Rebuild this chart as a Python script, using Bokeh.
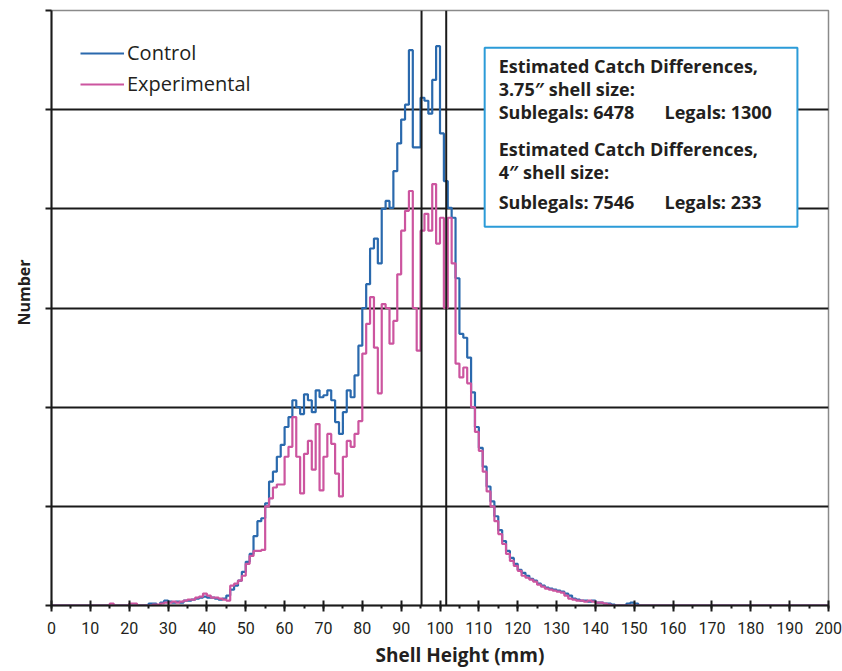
from bokeh.plotting import figure
from bokeh.models import (Range1d, SingleIntervalTicker, FixedTicker, Span,
                          BoxAnnotation, Label, ColumnDataSource, Title)
from bokeh.embed import file_html
from bokeh.resources import INLINE

# Bin starts (mm), 1 mm bins from 0 to 199, plus the closing edge at 200
bin_start = list(range(0, 201))

control = [
    0, 0, 0, 0, 0, 0, 0, 0, 0, 0,
    0, 0, 0, 0, 0, 0, 0, 0, 0, 0,
    0, 0, 0, 0, 0, 2, 2, 0, 3, 5,
    4, 3, 4, 3, 5, 5, 6, 7, 8, 9,
    8, 8, 7, 6, 7, 10, 16, 20, 25, 34,
    44, 52, 70, 85, 88, 103, 125, 135, 150, 162,
    180, 190, 207, 200, 193, 213, 207, 195, 217, 210,
    212, 217, 207, 185, 173, 195, 217, 210, 232, 262,
    300, 324, 360, 370, 345, 400, 408, 401, 438, 466,
    490, 505, 560, 462, 462, 512, 509, 496, 530, 564,
    476, 428, 401, 391, 330, 274, 270, 250, 215, 180,
    159, 140, 120, 105, 90, 76, 65, 55, 48, 42,
    36, 33, 30, 27, 25, 22, 20, 18, 17, 16,
    15, 14, 12, 10, 7, 6, 5, 5, 4, 5,
    3, 3, 2, 2, 1, 0, 0, 0, 2, 3,
    2, 0, 0, 0, 0, 0, 0, 0, 0, 0,
    0, 0, 0, 0, 0, 0, 0, 0, 0, 0,
    0, 0, 0, 0, 0, 0, 0, 0, 0, 0,
    0, 0, 0, 0, 0, 0, 0, 0, 0, 0,
    0, 0, 0, 0, 0, 0, 0, 0, 0, 0,
    0,
]

experimental = [
    0, 0, 0, 0, 0, 0, 0, 0, 0, 0,
    0, 0, 0, 0, 0, 2, 0, 0, 0, 0,
    2, 2, 0, 0, 0, 0, 1, 1, 2, 3,
    3, 4, 3, 4, 5, 6, 6, 8, 9, 12,
    10, 8, 8, 7, 6, 5, 20, 22, 25, 30,
    42, 50, 55, 55, 56, 100, 108, 119, 122, 122,
    150, 160, 190, 150, 113, 153, 166, 137, 183, 116,
    150, 173, 163, 133, 110, 150, 166, 160, 173, 186,
    254, 284, 311, 260, 214, 304, 300, 264, 287, 334,
    378, 398, 418, 300, 257, 378, 395, 378, 425, 365,
    391, 300, 391, 345, 244, 230, 240, 224, 200, 175,
    156, 135, 115, 100, 85, 72, 62, 52, 45, 40,
    35, 30, 28, 26, 24, 21, 19, 17, 16, 15,
    14, 13, 10, 7, 6, 5, 5, 4, 5, 4,
    3, 3, 2, 1, 0, 0, 0, 0, 0, 0,
    0, 0, 0, 0, 0, 0, 0, 0, 0, 0,
    0, 0, 0, 0, 0, 0, 0, 0, 0, 0,
    0, 0, 0, 0, 0, 0, 0, 0, 0, 0,
    0, 0, 0, 0, 0, 0, 0, 0, 0, 0,
    0, 0, 0, 0, 0, 0, 0, 0, 0, 0,
    0,
]

series_names = ["Control", "Experimental"]
series_colors = ["#2a69ad", "#cc559f"]

cutoffs_mm = [95.25, 101.6]   # 3.75" and 4" shell sizes

box_lines = [
    "Estimated Catch Differences,",
    "3.75\u2033 shell size:",
    "Sublegals: 6478",
    "Estimated Catch Differences,",
    "4\u2033 shell size:",
    "Sublegals: 7546",
]
box_legals = ["Legals: 1300", "Legals: 233"]

x_label = "Shell Height (mm)"
y_label = "Number"

TEXT = "#231f20"
DARK = "#1a1a1a"

p = figure(width=842, height=671, output_backend="svg", toolbar_location=None,
           x_range=Range1d(0, 200), y_range=Range1d(0, 600),
           min_border_left=51, min_border_right=14, min_border_top=10,
           min_border_bottom=66)
p.background_fill_color = "white"
p.border_fill_color = "white"
p.outline_line_color = "#8a8a8a"
p.outline_line_width = 1.5

# grid
p.xgrid.visible = False
p.ygrid.ticker = FixedTicker(ticks=[100, 200, 300, 400, 500])
p.ygrid.grid_line_color = DARK
p.ygrid.grid_line_width = 2

# x axis
xa = p.xaxis[0]
xa.ticker = SingleIntervalTicker(interval=10, num_minor_ticks=2)
xa.axis_line_color = DARK
xa.axis_line_width = 2
xa.major_tick_line_color = DARK
xa.major_tick_line_width = 2
xa.major_tick_in = 5
xa.major_tick_out = 6
xa.minor_tick_line_color = DARK
xa.minor_tick_line_width = 2
xa.minor_tick_in = 0
xa.minor_tick_out = 3
xa.major_label_text_font = "Roboto"
xa.major_label_text_font_size = "16px"
xa.major_label_text_color = TEXT
xa.major_label_standoff = 10

# y axis (ticks only, no labels)
ya = p.yaxis[0]
y_ticks = [0, 100, 200, 300, 400, 500, 600]
ya.ticker = FixedTicker(ticks=y_ticks)
ya.major_label_overrides = {t: "" for t in y_ticks}
ya.axis_line_color = DARK
ya.axis_line_width = 2
ya.major_tick_line_color = DARK
ya.major_tick_line_width = 2
ya.major_tick_in = 0
ya.major_tick_out = 6
ya.minor_tick_line_color = None
ya.major_label_standoff = 0

# cutoff lines
for c in cutoffs_mm:
    p.add_layout(Span(location=c, dimension="height", line_color=DARK,
                      line_width=2))

# histograms
src = ColumnDataSource(dict(x=bin_start, c=control, e=experimental))
p.step("x", "c", source=src, mode="after", line_color=series_colors[0],
       line_width=2.2, legend_label=series_names[0])
p.step("x", "e", source=src, mode="after", line_color=series_colors[1],
       line_width=2.2, legend_label=series_names[1])

lg = p.legend[0]
lg.location = "top_left"
lg.margin = 29
lg.padding = 1
lg.border_line_color = None
lg.background_fill_alpha = 0
lg.label_text_font = "Open Sans"
lg.label_text_font_size = "20px"
lg.label_text_color = TEXT
lg.glyph_width = 44
lg.glyph_height = 24
lg.label_height = 24
lg.label_standoff = 3
lg.spacing = 4

# text box
p.add_layout(BoxAnnotation(left=111.5, right=192, top=562.5, bottom=382,
                           fill_color="white", fill_alpha=1,
                           line_color="#2b9bd8", line_alpha=1, line_width=2))
ys = [544.5, 521, 497.4, 460.5, 437, 406.7]
for t, yv in zip(box_lines, ys):
    p.add_layout(Label(x=115.1, y=yv, text=t, text_font="Open Sans",
                       text_font_style="bold", text_font_size="18px",
                       text_color=TEXT, text_baseline="middle"))
for t, yv in zip(box_legals, [ys[2], ys[5]]):
    p.add_layout(Label(x=157.8, y=yv, text=t, text_font="Open Sans",
                       text_font_style="bold", text_font_size="18px",
                       text_color=TEXT, text_baseline="middle"))

# axis titles
p.add_layout(Title(text=x_label, text_font="Open Sans", text_font_style="bold",
                   text_font_size="19px", text_color=TEXT, align="left",
                   offset=324, standoff=6), "below")
p.add_layout(Title(text=y_label, text_font="Open Sans", text_font_style="bold",
                   text_font_size="16px", text_color=TEXT, align="left",
                   offset=280, standoff=21), "left")

open("out.html", "w").write(file_html(p, INLINE))
